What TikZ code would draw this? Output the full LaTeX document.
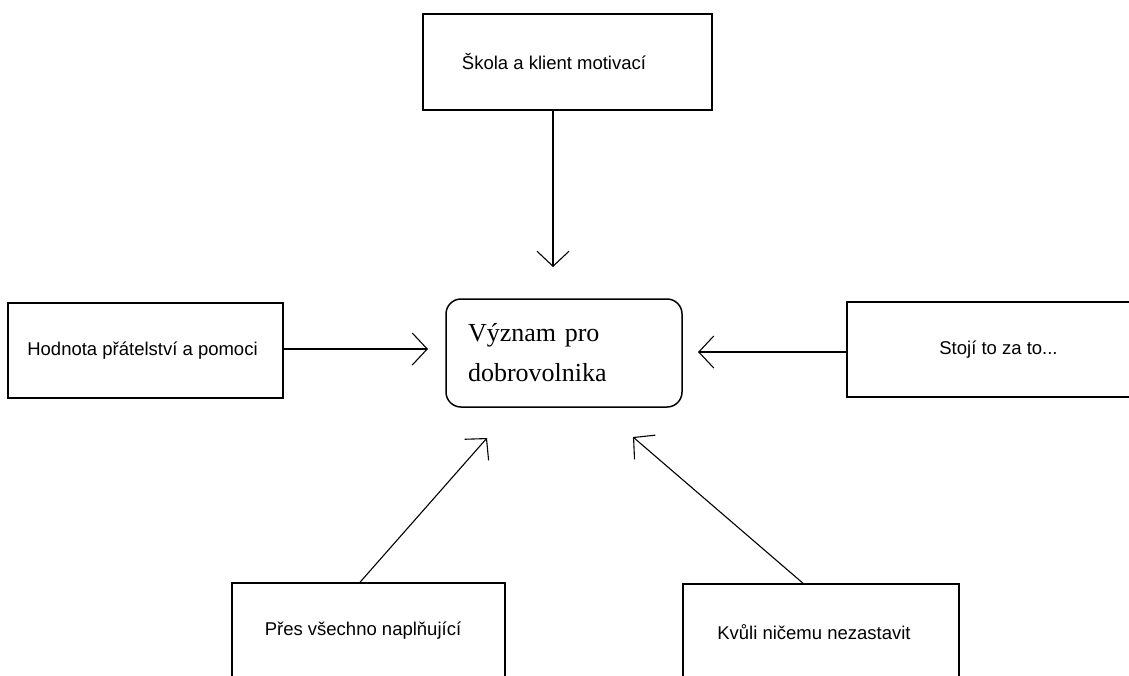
\documentclass[tikz,border=0pt]{standalone}
\usepackage{fontspec}
\setmainfont{Liberation Serif}
\newfontfamily\arialfont{Liberation Sans}
\usetikzlibrary{arrows.meta}
\begin{document}
\begin{tikzpicture}[x=1pt,y=-1pt,
  sbox/.style={draw, line width=1.5pt, rectangle, inner sep=0pt,
    font=\arialfont\fontsize{18.5}{21}\selectfont},
  cbox/.style={draw, line width=1.5pt, rounded corners=15pt, inner ysep=0pt,
    inner xsep=22pt, text width=192pt, align=left,
    minimum height=108pt, font=\fontsize{26}{40}\selectfont},
  arr/.style={line width=1.1pt, -{Straight Barb[length=15pt,width=32pt,line width=1.1pt]}}]
\useasboundingbox (0,0) rectangle (1129,675);
\fill[white] (0,0) rectangle (1129,675);
\begin{scope}
\clip (0,0) rectangle (1129,675);
\node[sbox, minimum width=289pt, minimum height=96pt] (top) at (567.5,62) {\hspace*{-27pt}\raisebox{-3pt}{Škola a klient motivací}};
\node[sbox, minimum width=275pt, minimum height=95pt] (left) at (145.5,350.5) {\hspace*{-6pt}\raisebox{-3pt}{Hodnota přátelství a pomoci}};
\node[sbox, minimum width=303pt, minimum height=95pt] (right) at (998.5,349.5) {\raisebox{-4pt}{Stojí to za to...}};
\node[sbox, minimum width=273pt, minimum height=96pt] (bl) at (368.5,631) {\hspace*{-11pt}\raisebox{-1pt}{Přes všechno naplňující}};
\node[sbox, minimum width=276pt, minimum height=96pt] (br) at (821,632) {\hspace*{-14pt}\raisebox{-1pt}{Kvůli ničemu nezastavit}};
\node[cbox, minimum width=236pt] (c) at (564,353) {Význam pro\\dobrovolnika};
\end{scope}
\coordinate (t1) at (553,267);
\coordinate (t2) at (428,349);
\coordinate (t3) at (698,352);
\coordinate (t4) at (487,438);
\coordinate (t5) at (633,437);
\draw[arr] (top.south -| t1) -- (t1);
\draw[arr] (left.east |- t2) -- (t2);
\draw[arr] (right.west |- t3) -- (t3);
\draw[arr] (bl.north -| 360,0) -- (t4);
\draw[arr] (br.north -| 803,0) -- (t5);
\end{tikzpicture}
\end{document}
